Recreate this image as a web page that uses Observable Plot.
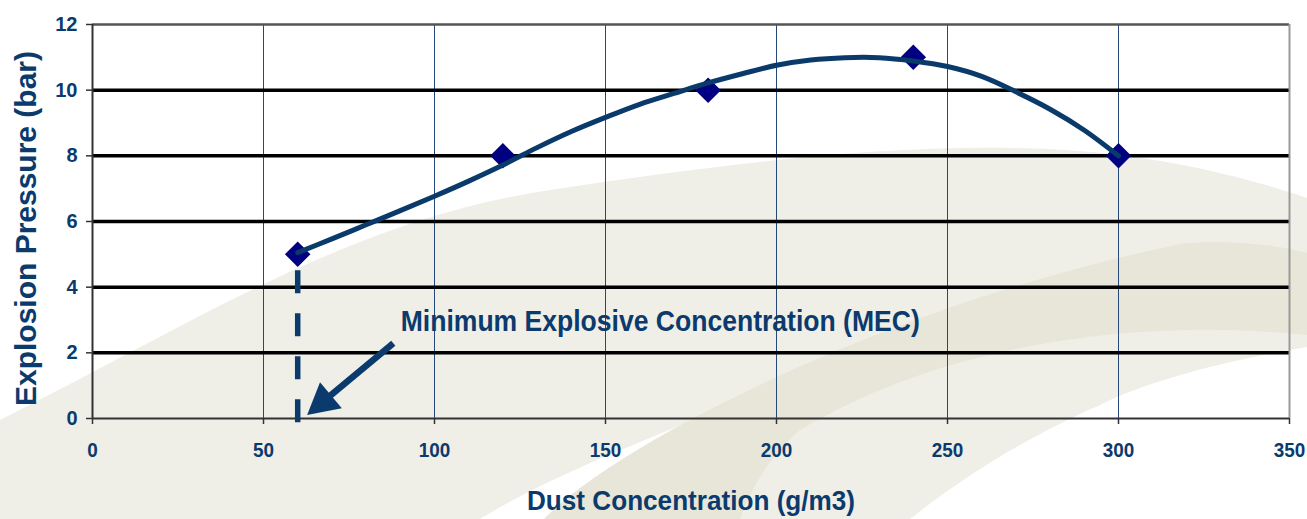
<!DOCTYPE html>
<html><head><meta charset="utf-8">
<script src="https://cdn.jsdelivr.net/npm/d3@7"></script>
<script src="https://cdn.jsdelivr.net/npm/@observablehq/plot@0.6"></script>
<style>
html,body{margin:0;padding:0;background:#fff;}
#wrap{position:relative;width:1307px;height:519px;overflow:hidden;}
#bg{position:absolute;left:0;top:0;}
#chart{position:absolute;left:0;top:0;}
</style></head><body>
<div id="wrap">
<svg id="bg" width="1307" height="519">
  <path fill="#EFEEE7" d="M0,420 C200,320 350,220 550,190 C750,160 950,135 1120,155 C1200,165 1270,185 1307,198 L1307,347 C1230,360 1150,380 1100,405 C1020,440 960,480 910,519 L544,519 C600,475 650,445 740,400 C650,440 560,470 480,519 L0,519 Z"/>
  <path fill="#E7E6D9" d="M544,519 C620,440 900,300 1186,243 C1240,240 1280,246 1307,253 L1307,335 C1150,318 950,340 800,430 C770,455 750,490 740,519 Z"/>
</svg>
<div id="chart"></div>
</div>
<script>
// Measured points (diamond markers)
const concentration = [60, 120, 180, 240, 300];
const pressure = [5, 8, 10, 11, 8];
// Trend line
const trendX = [60, 70, 80, 90, 100, 110, 120, 130, 140, 150, 160, 170, 180, 190, 200, 210, 220, 230, 240, 250, 260, 270, 280, 290, 300];
const trendY = [5.05, 5.47, 5.9, 6.33, 6.77, 7.23, 7.72, 8.25, 8.74, 9.17, 9.57, 9.9, 10.22, 10.5, 10.76, 10.92, 10.99, 10.99, 10.89, 10.72, 10.42, 9.95, 9.42, 8.78, 8.0];
// Axes
const xTicks = [0, 50, 100, 150, 200, 250, 300, 350];
const yTicks = [0, 2, 4, 6, 8, 10, 12];
const gridX = [50, 100, 150, 200, 250, 300];
const gridY = [2, 4, 6, 8, 10];
const xTitle = "Dust Concentration (g/m3)";
const yTitle = "Explosion Pressure (bar)";
// MEC annotation
const mecX = [60];
const mecTop = 4.5;
const mecBottom = -0.15;
const annotationText = "Minimum Explosive Concentration (MEC)";
const annotationX = 166;
const annotationY = 2.95;
const arrowTail = [88.1, 2.28];
const arrowTip = [62.9, 0.09];

const navy = "#0b3a6d";
const font = "'Liberation Sans', Arial, sans-serif";

const points = concentration.map((c, i) => ({c, p: pressure[i]}));
const trend = trendX.map((t, i) => ({t, v: trendY[i]}));

function arrowMark(index, scales) {
  const x1 = scales.x(arrowTail[0]), y1 = scales.y(arrowTail[1]);
  const x2 = scales.x(arrowTip[0]), y2 = scales.y(arrowTip[1]);
  const dx = x2 - x1, dy = y2 - y1, L = Math.hypot(dx, dy), ux = dx / L, uy = dy / L;
  const headLen = 31, headHalf = 17;
  const bx = x2 - ux * headLen, by = y2 - uy * headLen;
  const g = d3.create("svg:g").attr("aria-label", "arrow");
  g.append("line").attr("x1", x1).attr("y1", y1).attr("x2", bx + ux * 3).attr("y2", by + uy * 3)
    .attr("stroke", navy).attr("stroke-width", 6.5);
  g.append("path").attr("fill", navy)
    .attr("d", `M${x2},${y2}L${bx - uy * headHalf},${by + ux * headHalf}L${bx + uy * headHalf},${by - ux * headHalf}Z`);
  return g.node();
}

const plot = Plot.plot({
  width: 1307, height: 519,
  marginLeft: 92, marginRight: 18, marginTop: 24, marginBottom: 101,
  style: {background: "transparent", fontFamily: font, color: navy, overflow: "visible"},
  x: {domain: [0, 350]},
  y: {domain: [0, 12]},
  marks: [
    Plot.ruleX(gridX, {stroke: "#24497a", strokeWidth: 1}),
    Plot.ruleY(gridY, {stroke: "#000", strokeWidth: 3.5}),
    Plot.ruleY([12], {stroke: "#555", strokeWidth: 2.5}),
    Plot.ruleX([350], {stroke: "#999", strokeWidth: 2}),
    Plot.ruleX([0], {stroke: "#333", strokeWidth: 2}),
    Plot.ruleY([0], {stroke: "#333", strokeWidth: 2}),
    Plot.axisX(xTicks, {tickSize: 6, tickPadding: 18, stroke: "#333", strokeWidth: 1.5, fill: navy, fontSize: 21, fontWeight: "bold", label: null, tickFormat: d => String(d)}),
    Plot.axisY(yTicks, {tickSize: 6, tickPadding: 9, stroke: "#333", strokeWidth: 1.5, fill: navy, fontSize: 20, fontWeight: "bold", label: null, tickFormat: d => String(d)}),
    Plot.text([xTitle], {frameAnchor: "bottom", dy: 83, lineAnchor: "middle", textAnchor: "middle", fontSize: 28, fontWeight: "bold", fill: navy}),
    Plot.text([yTitle], {frameAnchor: "left", rotate: -90, dx: -66, dy: 7, lineAnchor: "middle", textAnchor: "middle", fontSize: 30, fontWeight: "bold", fill: navy}),
    Plot.ruleX(mecX, {y1: mecTop, y2: mecBottom, stroke: navy, strokeWidth: 5.5, strokeDasharray: "23,20"}),
    Plot.dot(points, {x: "c", y: "p", symbol: "diamond2", r: 11.5, fill: "#000080"}),
    Plot.line(trend, {x: "t", y: "v", curve: "catmull-rom", stroke: "#0a3a6a", strokeWidth: 5, strokeLinecap: "round"}),
    Plot.text([annotationText], {x: annotationX, y: annotationY, lineAnchor: "middle", textAnchor: "middle", fontSize: 30, fontWeight: "bold", fill: navy}),
    arrowMark
  ]
});
document.getElementById("chart").append(plot);

function fit(el, target) {
  const L = el.getComputedTextLength();
  el.setAttribute("textLength", typeof target === "function" ? target(L) : target);
  el.setAttribute("lengthAdjust", "spacingAndGlyphs");
}
const texts = Array.from(plot.querySelectorAll("text"));
const xAxisGroup = Array.from(plot.querySelectorAll("g")).find(g => g.getAttribute("aria-label") === "x-axis tick label");
if (xAxisGroup) xAxisGroup.querySelectorAll("text").forEach(t => fit(t, L => L * 0.9));
texts.forEach(t => {
  const s = t.textContent;
  if (s === annotationText) fit(t, 519);
  else if (s === xTitle) fit(t, 328);
  else if (s === yTitle) fit(t, 355);
});
</script>
</body></html>
